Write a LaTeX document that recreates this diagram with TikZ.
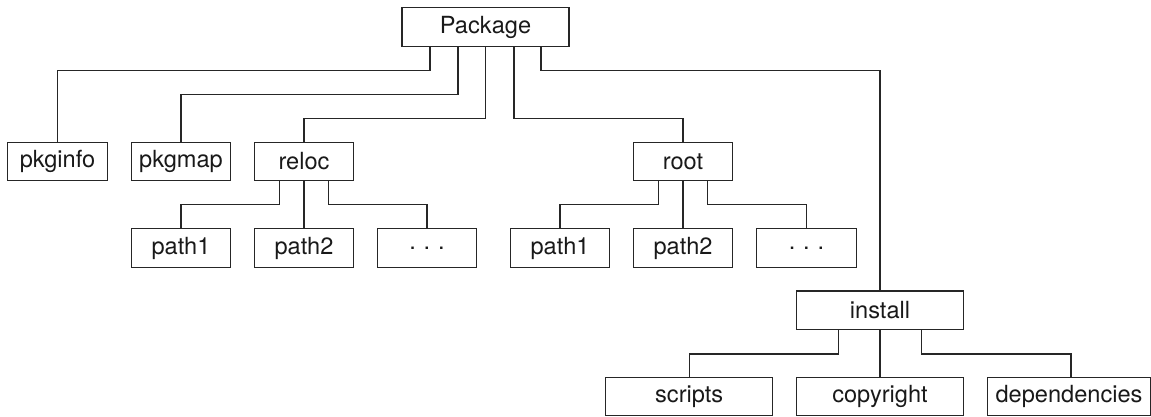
\documentclass[tikz,border=0pt]{standalone}
\usepackage{fontspec}
\setmainfont{TeX Gyre Heros}
\begin{document}
\begin{tikzpicture}[x=1pt,y=-1pt,
  box/.style={draw=black!85,line width=1.1pt,rectangle,inner sep=0pt,minimum height=38.5pt,
    minimum width=99.5pt,text=black!90,font=\fontsize{23.6}{28}\selectfont},
  wide/.style={minimum width=167pt},
  link/.style={draw=black!85,line width=1.1pt}]
\useasboundingbox (0,0) rectangle (1151,416);
% nodes
\node[box,wide] (pkg) at (485.5,27) {Package};
\node[box] (pkginfo) at (57.5,161.5) {pkginfo};
\node[box] (pkgmap) at (181,161.5) {pkgmap};
\node[box] (reloc) at (304,161.5) {reloc};
\node[box] (root) at (683,161.5) {root};
\node[box] (rp1) at (181,248) {path1};
\node[box] (rp2) at (304,248) {path2};
\node[box] (rdots) at (427,248) {.\,\,.\,\,.};
\node[box] (op1) at (560,248) {path1};
\node[box] (op2) at (683,248) {path2};
\node[box] (odots) at (806.5,248) {.\,\,.\,\,.};
\node[box,wide] (install) at (880,310.2) {install};
\node[box,wide] (scripts) at (689.2,396.5) {scripts};
\node[box,wide] (copyright) at (880,396.5) {copyright};
\node[box,minimum width=163pt] (deps) at (1069,396.5) {dependencies};
% connectors from Package
\draw[link] ([xshift=-55.5pt]pkg.south) -- ++(0,23.75) -| (pkginfo.north);
\draw[link] ([xshift=-27.5pt]pkg.south) -- ++(0,48) -| (pkgmap.north);
\draw[link] (pkg.south) -- ++(0,71.75) -| (reloc.north);
\draw[link] ([xshift=28.5pt]pkg.south) -- ++(0,71.75) -| (root.north);
\draw[link] ([xshift=55.5pt]pkg.south) -- ++(0,23.75) -| (install.north);
% reloc children
\draw[link] ([xshift=-24.5pt]reloc.south) -- ++(0,23.5) -| (rp1.north);
\draw[link] (reloc.south) -- (rp2.north);
\draw[link] ([xshift=24.5pt]reloc.south) -- ++(0,23.5) -| (rdots.north);
% root children
\draw[link] ([xshift=-24.5pt]root.south) -- ++(0,23.5) -| (op1.north);
\draw[link] (root.south) -- (op2.north);
\draw[link] ([xshift=24.5pt]root.south) -- ++(0,23.5) -| (odots.north);
% install children
\draw[link] ([xshift=-41.5pt]install.south) -- ++(0,24) -| (scripts.north);
\draw[link] (install.south) -- (copyright.north);
\draw[link] ([xshift=41.7pt]install.south) -- ++(0,24) -| ([xshift=2pt]deps.north);
\end{tikzpicture}
\end{document}
